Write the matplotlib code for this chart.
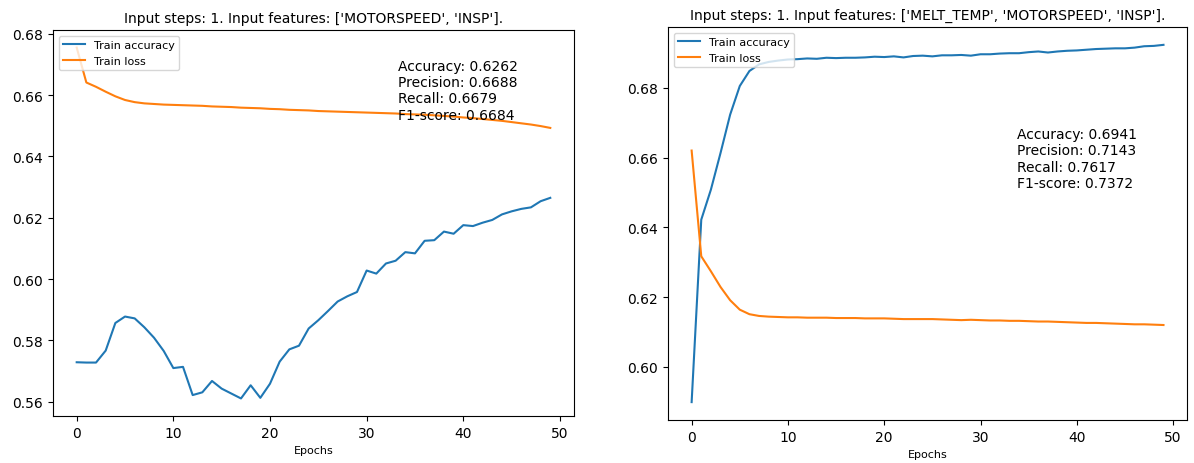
import numpy as np
import matplotlib
matplotlib.use("Agg")
import matplotlib.pyplot as plt

epochs = np.arange(50)

# left run: MOTORSPEED, INSP
acc_left = [0.5729, 0.5728, 0.5728, 0.5767, 0.5857, 0.5878, 0.5872, 0.5843, 0.5809, 0.5766,
            0.5710, 0.5714, 0.5622, 0.5631, 0.5668, 0.5643, 0.5627, 0.5611, 0.5654, 0.5613,
            0.5659, 0.5731, 0.5771, 0.5783, 0.5839, 0.5866, 0.5896, 0.5927, 0.5944, 0.5958,
            0.6028, 0.6018, 0.6051, 0.6060, 0.6088, 0.6084, 0.6125, 0.6127, 0.6155, 0.6148,
            0.6176, 0.6173, 0.6184, 0.6193, 0.6211, 0.6221, 0.6229, 0.6234, 0.6254, 0.6265]
loss_left = [0.6755, 0.6641, 0.6627, 0.6611, 0.6596, 0.6584, 0.6577, 0.6573, 0.6571, 0.6569,
             0.6568, 0.6567, 0.6566, 0.6565, 0.6563, 0.6562, 0.6561, 0.6559, 0.6558, 0.6557,
             0.6555, 0.6554, 0.6552, 0.6551, 0.6550, 0.6548, 0.6547, 0.6546, 0.6545, 0.6544,
             0.6543, 0.6542, 0.6541, 0.6540, 0.6538, 0.6537, 0.6536, 0.6534, 0.6532, 0.6530,
             0.6527, 0.6525, 0.6522, 0.6519, 0.6516, 0.6512, 0.6508, 0.6504, 0.6499, 0.6493]
feat_left = ['MOTORSPEED', 'INSP']
metrics_left = {'Accuracy': 0.6262, 'Precision': 0.6688, 'Recall': 0.6679, 'F1-score': 0.6684}

# right run: MELT_TEMP, MOTORSPEED, INSP
acc_right = [0.5899, 0.6422, 0.6508, 0.6613, 0.6723, 0.6805, 0.6848, 0.6867, 0.6874, 0.6878,
             0.6881, 0.6882, 0.6884, 0.6883, 0.6886, 0.6885, 0.6886, 0.6886, 0.6887, 0.6889,
             0.6888, 0.6890, 0.6887, 0.6891, 0.6892, 0.6890, 0.6893, 0.6893, 0.6894, 0.6892,
             0.6896, 0.6896, 0.6898, 0.6899, 0.6899, 0.6902, 0.6904, 0.6901, 0.6904, 0.6906,
             0.6907, 0.6909, 0.6911, 0.6912, 0.6913, 0.6913, 0.6915, 0.6919, 0.6920, 0.6923]
loss_right = [0.6620, 0.6317, 0.6274, 0.6229, 0.6191, 0.6164, 0.6151, 0.6146, 0.6144, 0.6143,
              0.6142, 0.6142, 0.6141, 0.6141, 0.6141, 0.6140, 0.6140, 0.6140, 0.6139, 0.6139,
              0.6139, 0.6138, 0.6137, 0.6137, 0.6137, 0.6137, 0.6136, 0.6135, 0.6134, 0.6135,
              0.6134, 0.6133, 0.6133, 0.6132, 0.6132, 0.6131, 0.6130, 0.6130, 0.6129, 0.6128,
              0.6127, 0.6126, 0.6126, 0.6125, 0.6124, 0.6123, 0.6122, 0.6122, 0.6121, 0.6120]
feat_right = ['MELT_TEMP', 'MOTORSPEED', 'INSP']
metrics_right = {'Accuracy': 0.6941, 'Precision': 0.7143, 'Recall': 0.7617, 'F1-score': 0.7372}

fig = plt.figure(figsize=(11.94, 4.64), dpi=100)


def draw(rect, acc, loss, feats, metrics, txt_pos):
    ax = fig.add_axes(rect)
    ax.plot(epochs, acc, label='Train accuracy')
    ax.plot(epochs, loss, label='Train loss')
    ax.set_title('Input steps: 1. Input features: %s.' % str(feats), fontsize=10)
    ax.set_xlabel('Epochs', fontsize=8)
    ax.legend(loc='upper left', fontsize=8)
    txt = '\n'.join('%s: %.4f' % (k, v) for k, v in metrics.items())
    ax.text(txt_pos[0], txt_pos[1], txt, transform=ax.transAxes, fontsize=10, va='top')
    return ax


draw([0.0444, 0.1013, 0.4363, 0.8319], acc_left, loss_left, feat_left, metrics_left, (0.663, 0.925))
draw([0.5595, 0.0927, 0.4347, 0.8470], acc_right, loss_right, feat_right, metrics_right, (0.673, 0.745))

fig.savefig('out.png', dpi=100)
